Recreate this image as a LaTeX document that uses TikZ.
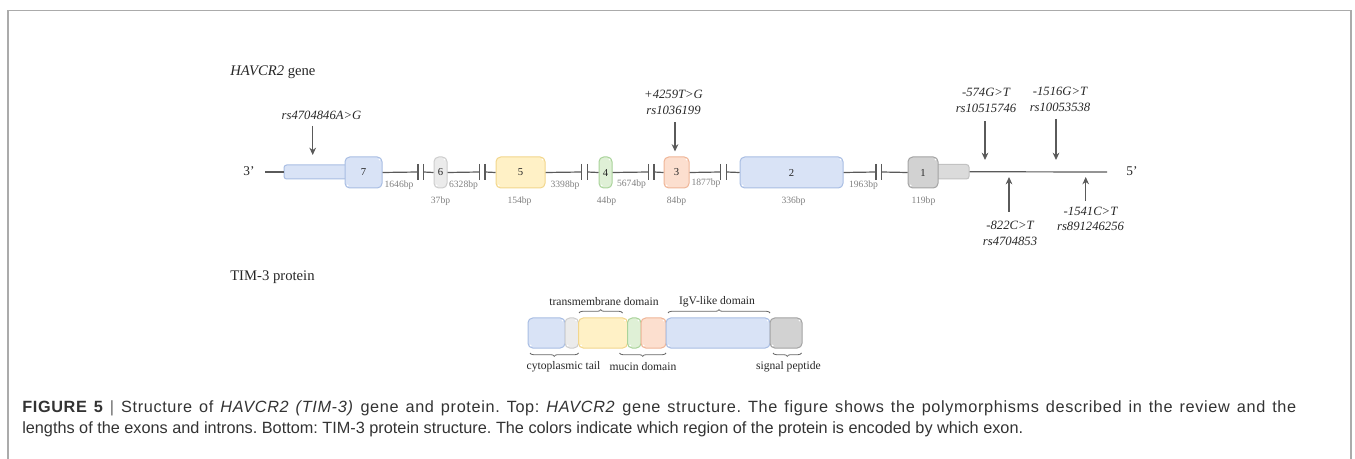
\documentclass[tikz,border=0pt]{standalone}
\usepackage{fontspec}
\setmainfont{Liberation Serif}
\newfontfamily\capfont{Liberation Sans}
\newfontfamily\capfontwide[LetterSpace=4]{Liberation Sans}
\usetikzlibrary{arrows.meta,decorations.pathreplacing,calc}
\frenchspacing

\definecolor{blueF}{HTML}{D9E3F6}\definecolor{blueD}{HTML}{A8BDE3}
\definecolor{lgrayF}{HTML}{EBEBEB}\definecolor{lgrayD}{HTML}{CDCDCD}
\definecolor{yelF}{HTML}{FFF1C6}\definecolor{yelD}{HTML}{F2D68C}
\definecolor{grnF}{HTML}{DFF0D6}\definecolor{grnD}{HTML}{A9D39A}
\definecolor{peaF}{HTML}{FCDFCF}\definecolor{peaD}{HTML}{EFB597}
\definecolor{grayF}{HTML}{D2D2D2}\definecolor{grayD}{HTML}{A3A3A3}
\definecolor{tailF}{HTML}{DBDBDB}\definecolor{tailD}{HTML}{C2C2C2}
\definecolor{linec}{HTML}{5A5A5A}
\definecolor{framec}{HTML}{ABABAB}
\definecolor{txtc}{HTML}{262626}

\tikzset{
  exon/.style={line width=0.75pt, rounded corners=3.5pt, inner sep=0pt,
    font=\fontsize{8}{9}\selectfont, text=txtc,
    path picture={
      \fill[white] ($(path picture bounding box.north east)+(-2.5,2.5)$) circle (1);
      \fill[white] ($(path picture bounding box.south west)+(2.5,-2.5)$) circle (1);}},
  tail/.style={line width=0.75pt, rounded corners=2pt, inner sep=0pt},
  gline/.style={draw=linec, line width=0.9pt},
  brk/.style={draw=linec, line width=0.9pt},
  snp/.style={draw=linec, line width=0.8pt, -{Stealth[length=5.5pt,width=5pt]}},
  snplab/.style={font=\fontsize{9.5}{11.8}\selectfont\itshape, align=center, text=txtc, inner sep=0pt},
  bplab/.style={font=\fontsize{7.2}{8}\selectfont, text=black!50, inner sep=0pt},
  title/.style={font=\fontsize{11}{13}\selectfont, text=txtc, inner sep=0pt, anchor=west},
  prot/.style={draw, line width=0.75pt, rounded corners=3.5pt, inner sep=0pt,
    minimum height=22.5pt,
    path picture={
      \fill[white] ($(path picture bounding box.north east)+(-2.5,2.5)$) circle (1);
      \fill[white] ($(path picture bounding box.south west)+(2.5,-2.5)$) circle (1);}},
  protlab/.style={font=\fontsize{8.7}{10}\selectfont, text=txtc, inner sep=0pt},
  brace/.style={draw=black!60, line width=0.6pt, decorate, decoration={brace, amplitude=2.5pt}},
  capline/.style={font=\capfont\fontsize{12.2}{15}\selectfont, text=black!80, inner sep=0pt, anchor=base west}
}

% box from x1 to x2, y1 to y2 (pixel-like units)
\newcommand\genebox[8]{%
  \node[exon, fill=#6, draw=#7, minimum width={(#3-#2)*0.75pt},
        minimum height={(#5-#4)*0.75pt}] (#1) at ({(#2+#3)/2},{(#4+#5)/2}) {#8};}
\newcommand\tailbox[7]{%
  \node[tail, fill=#6, draw=#7, minimum width={(#3-#2)*0.75pt},
        minimum height={(#5-#4)*0.75pt}] (#1) at ({(#2+#3)/2},{(#4+#5)/2}) {};}
\newcommand\protbox[5]{%
  \node[prot, fill=#4, draw=#5, minimum width={(#3-#2)*0.75pt}] (#1) at ({(#2+#3)/2},333) {};}
% interruption mark: two short bars at x and x+5.6
\newcommand\breakmark[2]{%
  \coordinate (#1l) at (#2,172);
  \coordinate (#1r) at ({#2+5.6},172);
  \draw[brk] ($(#1l)+(0,-8)$) -- ($(#1l)+(0,8)$);
  \draw[brk] ($(#1r)+(0,-8)$) -- ($(#1r)+(0,8)$);}

\begin{document}
\begin{tikzpicture}[x=0.75pt, y=-0.75pt]
\useasboundingbox (0,0) rectangle (1355,459);

% outer frame, open at the bottom
\draw[framec, line width=1.1pt] (8,470) -- (8,10.5) -- (1351,10.5) -- (1351,470);

% ---------- gene ----------
\node[title] (gtitle) at (230,72) {\textit{HAVCR2} gene};
\node[font=\fontsize{10}{12}\selectfont, text=txtc, inner sep=0pt] (p3) at (249,171) {3’};
\node[font=\fontsize{10}{12}\selectfont, text=txtc, inner sep=0pt] (p5) at (1132,171) {5’};
\coordinate (gstart) at (265,172);
\coordinate (gend) at (1107,172);

\tailbox{t7}{284}{348}{165}{179}{blueF}{blueD}
\tailbox{t1}{932}{969}{164.5}{179}{tailF}{tailD}
\draw[gline] (gstart) -- (t7.west);

\genebox{e7}{345}{382}{157}{188}{blueF}{blueD}{7}
\genebox{e6}{434}{447}{157}{188}{lgrayF}{lgrayD}{6}
\genebox{e5}{496}{545}{157}{188}{yelF}{yelD}{5}
\genebox{e4}{599}{612}{157}{188}{grnF}{grnD}{4}
\genebox{e3}{664}{689}{157}{188}{peaF}{peaD}{3}
\genebox{e2}{740}{843}{157}{188}{blueF}{blueD}{2}
\genebox{e1}{908}{938}{157}{188}{grayF}{grayD}{1}

\breakmark{b1}{418}
\breakmark{b2}{479.4}
\breakmark{b3}{581.7}
\breakmark{b4}{648.4}
\breakmark{b5}{720.7}
\breakmark{b6}{876}

\draw[gline] (e7.east) -- (b1l);  \draw[gline] (b1r) -- (e6.west);
\draw[gline] (e6.east) -- (b2l);  \draw[gline] (b2r) -- (e5.west);
\draw[gline] (e5.east) -- (b3l);  \draw[gline] (b3r) -- (e4.west);
\draw[gline] (e4.east) -- (b4l);  \draw[gline] (b4r) -- (e3.west);
\draw[gline] (e3.east) -- (b5l);  \draw[gline] (b5r) -- (e2.west);
\draw[gline] (e2.east) -- (b6l);  \draw[gline] (b6r) -- (e1.west);
\draw[gline] (t1.east) -- (gend);

% intron and exon lengths
\node[bplab] (i7) at (399,185) {1646bp};
\node[bplab] (i6) at (463.5,185) {6328bp};
\node[bplab] (i5) at (565,185) {3398bp};
\node[bplab] (i4) at (631.5,184) {5674bp};
\node[bplab] (i3) at (706,183.5) {1877bp};
\node[bplab] (i2) at (863.5,185) {1963bp};
\node[bplab] (l6) at (440.5,201.5) {37bp};
\node[bplab] (l5) at (519.5,201.5) {154bp};
\node[bplab] (l4) at (606.5,201.5) {44bp};
\node[bplab] (l3) at (676.5,201.5) {84bp};
\node[bplab] (l2) at (793.5,201.5) {336bp};
\node[bplab] (l1) at (923.5,201.5) {119bp};

% polymorphisms
\node[snplab] (s1) at (321.5,115.5) {rs4704846A>G};
\coordinate (s1a) at (312.7,126); \coordinate (s1b) at (312.7,155);
\draw[snp] (s1a) -- (s1b);

\node[snplab] (s2) at (673.5,102.5) {+4259T>G\\rs1036199};
\coordinate (s2a) at (675,122.5); \coordinate (s2b) at (675,151.5);
\draw[snp] (s2a) -- (s2b);

\node[snplab] (s3) at (986,100.5) {-574G>T\\rs10515746};
\coordinate (s3a) at (985,121.5); \coordinate (s3b) at (985,160);
\draw[snp] (s3a) -- (s3b);

\node[snplab] (s4) at (1060,99.5) {-1516G>T\\rs10053538};
\coordinate (s4a) at (1056,119); \coordinate (s4b) at (1056,160);
\draw[snp] (s4a) -- (s4b);

\node[snplab] (s5) at (1010,233.5) {-822C>T\\rs4704853};
\coordinate (s5a) at (1009,212); \coordinate (s5b) at (1009,177);
\draw[snp] (s5a) -- (s5b);

\node[snplab] (s6) at (1090.5,219) {-1541C>T\\rs891246256};
\coordinate (s6a) at (1085.7,201); \coordinate (s6b) at (1085.7,177);
\draw[snp] (s6a) -- (s6b);

% ---------- protein ----------
\node[title] (ptitle) at (230,277) {TIM-3 protein};

\protbox{pa}{528}{565}{blueF}{blueD}
\protbox{pb}{565}{578.5}{lgrayF}{lgrayD}
\protbox{pc}{578.5}{627.5}{yelF}{yelD}
\protbox{pd}{627.5}{641}{grnF}{grnD}
\protbox{pe}{641}{666}{peaF}{peaD}
\protbox{pf}{666}{770}{blueF}{blueD}
\protbox{pg}{770}{802}{grayF}{grayD}

\coordinate (tmA) at (579,313);  \coordinate (tmB) at (622.5,313);
\coordinate (igA) at (668,313);  \coordinate (igB) at (770,313);
\coordinate (ctA) at (530,353);  \coordinate (ctB) at (578.5,353);
\coordinate (muA) at (619.5,353); \coordinate (muB) at (666,353);
\coordinate (spA) at (773,353);  \coordinate (spB) at (801.5,353);
\draw[brace] (tmA) -- (tmB);
\draw[brace] (igA) -- (igB);
\draw[brace, decoration={mirror}] (ctA) -- (ctB);
\draw[brace, decoration={mirror}] (muA) -- (muB);
\draw[brace, decoration={mirror}] (spA) -- (spB);

\node[protlab] (tml) at (604,302) {transmembrane domain};
\node[protlab] (igl) at (717,302) {IgV-like domain};
\node[protlab] (ctl) at (563.5,367) {cytoplasmic tail};
\node[protlab] (mul) at (643,367) {mucin domain};
\node[protlab] (spl) at (788.5,367) {signal peptide};

% ---------- caption ----------
\node[capline, font=\capfontwide\fontsize{12.2}{15}\selectfont] (cap1) at (22,412.5) {\makebox[955.5pt][s]{{\bfseries FIGURE 5} {\color{black!60}|} Structure of \textit{HAVCR2 (TIM-3)} gene and protein. Top: \textit{HAVCR2} gene structure. The figure shows the polymorphisms described in the review and the}};
\node[capline] (cap2) at (22,433.5) {lengths of the exons and introns. Bottom: TIM-3 protein structure. The colors indicate which region of the protein is encoded by which exon.};
\end{tikzpicture}
\end{document}
